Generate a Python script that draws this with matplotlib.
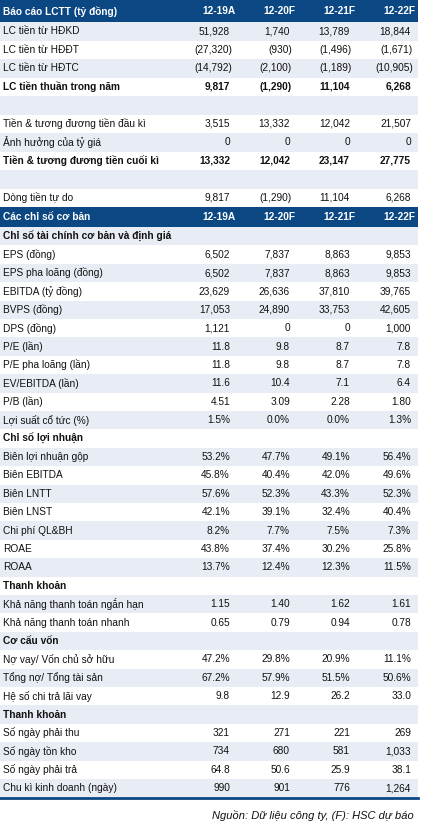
import matplotlib
matplotlib.use("Agg")
import matplotlib.pyplot as plt
from matplotlib.patches import Rectangle

plt.rcParams["font.family"] = ["Liberation Sans", "DejaVu Sans"]

NAVY = "#0B4783"
LIGHT = "#E8ECF5"
TEXT = "#111111"

periods = ["12-19A", "12-20F", "12-21F", "12-22F"]

# cash flow block
cf_title = "Báo cáo LCTT (tỷ đồng)"
cf_labels = ["LC tiền từ HĐKD", "LC tiền từ HĐĐT", "LC tiền từ HĐTC",
             "LC tiền thuần trong năm", "",
             "Tiền & tương đương tiền đầu kì", "Ảnh hưởng của tỷ giá",
             "Tiền & tương đương tiền cuối kì", "", "Dòng tiền tự do"]
cf_values = [[51928, 1740, 13789, 18844],
             [-27320, -930, -1496, -1671],
             [-14792, -2100, -1189, -10905],
             [9817, -1290, 11104, 6268],
             None,
             [3515, 13332, 12042, 21507],
             [0, 0, 0, 0],
             [13332, 12042, 23147, 27775],
             None,
             [9817, -1290, 11104, 6268]]
cf_fmt = ["int"] * 10
cf_bold = [False, False, False, True, False, False, False, True, False, False]

# ratio block
ratio_title = "Các chỉ số cơ bản"
ratio_labels = ["Chỉ số tài chính cơ bản và định giá",
                "EPS (đồng)", "EPS pha loãng (đồng)", "EBITDA (tỷ đồng)",
                "BVPS (đồng)", "DPS (đồng)", "P/E (lần)", "P/E pha loãng (lần)",
                "EV/EBITDA (lần)", "P/B (lần)", "Lợi suất cổ tức (%)",
                "Chỉ số lợi nhuận",
                "Biên lợi nhuận gộp", "Biên EBITDA", "Biên LNTT", "Biên LNST",
                "Chi phí QL&BH", "ROAE", "ROAA",
                "Thanh khoản",
                "Khả năng thanh toán ngắn hạn", "Khả năng thanh toán nhanh",
                "Cơ cấu vốn",
                "Nợ vay/ Vốn chủ sở hữu", "Tổng nợ/ Tổng tài sản",
                "Hệ số chi trả lãi vay",
                "Thanh khoản",
                "Số ngày phải thu", "Số ngày tồn kho", "Số ngày phải trả",
                "Chu kì kinh doanh (ngày)"]
ratio_values = [None,
                [6502, 7837, 8863, 9853],
                [6502, 7837, 8863, 9853],
                [23629, 26636, 37810, 39765],
                [17053, 24890, 33753, 42605],
                [1121, 0, 0, 1000],
                [11.8, 9.8, 8.7, 7.8],
                [11.8, 9.8, 8.7, 7.8],
                [11.6, 10.4, 7.1, 6.4],
                [4.51, 3.09, 2.28, 1.80],
                [1.5, 0.0, 0.0, 1.3],
                None,
                [53.2, 47.7, 49.1, 56.4],
                [45.8, 40.4, 42.0, 49.6],
                [57.6, 52.3, 43.3, 52.3],
                [42.1, 39.1, 32.4, 40.4],
                [8.2, 7.7, 7.5, 7.3],
                [43.8, 37.4, 30.2, 25.8],
                [13.7, 12.4, 12.3, 11.5],
                None,
                [1.15, 1.40, 1.62, 1.61],
                [0.65, 0.79, 0.94, 0.78],
                None,
                [47.2, 29.8, 20.9, 11.1],
                [67.2, 57.9, 51.5, 50.6],
                [9.8, 12.9, 26.2, 33.0],
                None,
                [321, 271, 221, 269],
                [734, 680, 581, 1033],
                [64.8, 50.6, 25.9, 38.1],
                [990, 901, 776, 1264]]
ratio_fmt = (["", "int", "int", "int", "int", "int", "d1", "d1", "d1", "d2", "pct",
              "", "pct", "pct", "pct", "pct", "pct", "pct", "pct",
              "", "d2", "d2",
              "", "pct", "pct", "d1",
              "", "int", "int", "d1", "int"])
ratio_bold = [v is None for v in ratio_values]

source = "Nguồn: Dữ liệu công ty, (F): HSC dự báo"


def fmt(v, kind):
    if kind == "int":
        s = f"{abs(v):,.0f}"
        return f"({s})" if v < 0 else s
    if kind == "d1":
        return f"{v:.1f}"
    if kind == "d2":
        return f"{v:.2f}"
    if kind == "pct":
        return f"{v:.1f}%"
    return str(v)


W, H = 428, 824
fig = plt.figure(figsize=(W / 100, H / 100), dpi=100)
ax = fig.add_axes([0, 0, 1, 1])
ax.set_xlim(0, W)
ax.set_ylim(H, 0)
ax.axis("off")

table_w = 418
label_x = 3
val_x = [232, 292, 352, 413]
head_x = [236, 295, 355, 415]
fs = 7.3


def block(y0, title, labels, values, kinds, bold, head_h, row_h):
    ax.add_patch(Rectangle((0, y0), table_w, head_h, color=NAVY, lw=0))
    yc = y0 + head_h / 2
    ax.text(label_x, yc, title, color="white", fontsize=fs, fontweight="bold",
            va="center", ha="left")
    for x, p in zip(head_x, periods):
        ax.text(x, yc, p, color="white", fontsize=fs, fontweight="bold",
                va="center", ha="right")
    y = y0 + head_h
    for i, (lab, vals, kind, b) in enumerate(zip(labels, values, kinds, bold)):
        if i % 2 == 0:
            ax.add_patch(Rectangle((0, y), table_w, row_h, color=LIGHT, lw=0))
        yc = y + row_h / 2
        w = "bold" if b else "normal"
        ax.text(label_x, yc, lab, color=TEXT, fontsize=fs, fontweight=w,
                va="center", ha="left")
        if vals is not None:
            for x, v in zip(val_x, vals):
                s = fmt(v, kind)
                xx = x if s.endswith(")") else x - 2
                ax.text(xx, yc, s, color=TEXT, fontsize=fs, fontweight=w,
                        va="center", ha="right")
        y += row_h
    return y


block(0, cf_title, cf_labels, cf_values, cf_fmt, cf_bold, 22, 18.5)
y_end = block(207, ratio_title, ratio_labels, ratio_values, ratio_fmt, ratio_bold, 20, 18.4)
ax.plot([0, table_w], [y_end + 1, y_end + 1], color=NAVY, lw=2)
ax.text(414, y_end + 18, source, color=TEXT, fontsize=8, style="italic",
        va="center", ha="right")

fig.savefig("out.png", dpi=100)
